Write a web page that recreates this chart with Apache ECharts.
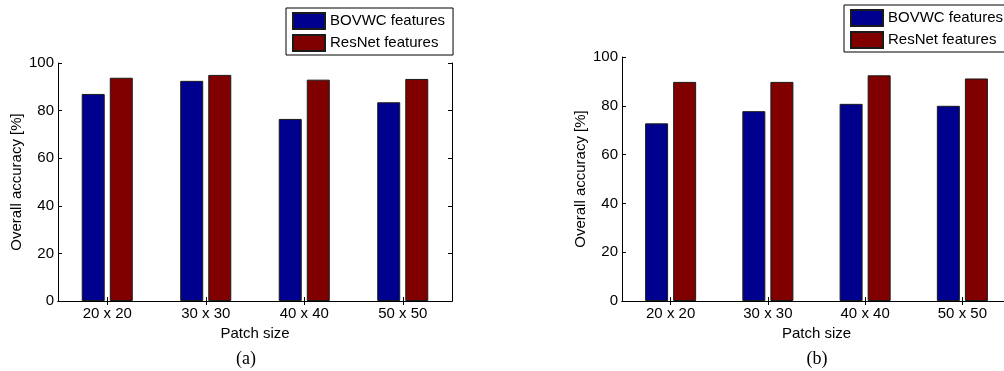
<!DOCTYPE html>
<html>
<head>
<meta charset="utf-8">
<script src="https://cdn.jsdelivr.net/npm/echarts@6/dist/echarts.min.js"></script>
<style>
  html, body { margin: 0; padding: 0; background: #fff; }
  #chart { width: 1004px; height: 371px; }
</style>
</head>
<body>
<div id="chart"></div>
<script>
// Patch sizes on the horizontal axis
const categories = ['20 x 20', '30 x 30', '40 x 40', '50 x 50'];
// Overall accuracy [%] for panel (a)
const bovwcA = [87.0, 92.5, 76.5, 83.5];
const resnetA = [93.8, 95.0, 93.0, 93.3];
// Overall accuracy [%] for panel (b)
const bovwcB = [72.8, 77.8, 80.8, 80.0];
const resnetB = [89.8, 89.8, 92.5, 91.2];
// Value axis range and step
const yMin = 0, yMax = 100, yStep = 20;

const seriesNames = ['BOVWC features', 'ResNet features'];
const colors = ['#00008f', '#800000'];
const FONT = 'Liberation Sans, Arial, Helvetica, sans-serif';

// panel (b) runs slightly past the right edge of the page
const grids = [
  { left: 58, top: 63, width: 394, height: 238, outerBoundsMode: 'none', containLabel: false },
  { left: 622, top: 57, width: 389, height: 244, outerBoundsMode: 'none', containLabel: false }
];

function bottomX(gi) {
  return {
    type: 'category', gridIndex: gi, data: categories, position: 'bottom',
    axisLine: { show: true, lineStyle: { color: '#000', width: 1 } },
    axisTick: { show: true, inside: true, length: 4, alignWithLabel: true, lineStyle: { color: '#000' } },
    axisLabel: { color: '#000', fontSize: 15, fontFamily: FONT, margin: 5 },
    name: 'Patch size', nameLocation: 'middle', nameGap: 19,
    nameTextStyle: { color: '#000', fontSize: 15, fontFamily: FONT },
    splitLine: { show: false }
  };
}
function topX(gi) {
  return {
    type: 'category', gridIndex: gi, data: categories, position: 'top',
    axisLine: { show: true, lineStyle: { color: '#000', width: 1 } },
    axisTick: { show: true, inside: true, length: 4, alignWithLabel: true, lineStyle: { color: '#000' } },
    axisLabel: { show: false }, splitLine: { show: false }
  };
}
function leftY(gi) {
  return {
    type: 'value', gridIndex: gi, min: yMin, max: yMax, interval: yStep, position: 'left',
    axisLine: { show: true, lineStyle: { color: '#000', width: 1 } },
    axisTick: { show: true, inside: true, length: 4, lineStyle: { color: '#000' } },
    axisLabel: { color: '#000', fontSize: 15, fontFamily: FONT, margin: 4 },
    name: 'Overall accuracy [%]', nameLocation: 'middle', nameGap: 34,
    nameTextStyle: { color: '#000', fontSize: 15, fontFamily: FONT },
    splitLine: { show: false }
  };
}
function rightY(gi) {
  return {
    type: 'value', gridIndex: gi, min: yMin, max: yMax, interval: yStep, position: 'right',
    axisLine: { show: true, lineStyle: { color: '#000', width: 1 } },
    axisTick: { show: true, inside: true, length: 4, lineStyle: { color: '#000' } },
    axisLabel: { show: false }, splitLine: { show: false }
  };
}

function bar(name, data, color, axisIdx) {
  return {
    type: 'bar', name: name, data: data,
    xAxisIndex: axisIdx, yAxisIndex: axisIdx,
    barWidth: 23, barGap: '22%',
    itemStyle: { color: color, borderColor: '#1a1a1a', borderWidth: 1 },
    emphasis: { disabled: true },
    animation: false
  };
}

function legendAt(left, top) {
  return {
    orient: 'vertical', left: left, top: top,
    data: seriesNames, icon: 'rect',
    itemWidth: 32, itemHeight: 16, itemGap: 4,
    padding: [4, 8, 3, 6],
    borderColor: '#000', borderWidth: 1, backgroundColor: '#fff',
    selectedMode: false,
    textStyle: { color: '#000', fontSize: 15, fontFamily: FONT }
  };
}

const chart = echarts.init(document.getElementById('chart'), null, { renderer: 'canvas' });
chart.setOption({
  backgroundColor: '#fff',
  animation: false,
  grid: grids,
  // axes 0,1: panel (a) bottom / panel (b) bottom; 2,3: top edges
  xAxis: [bottomX(0), bottomX(1), topX(0), topX(1)],
  yAxis: [leftY(0), leftY(1), rightY(0), rightY(1)],
  legend: [legendAt(286, 8), legendAt(844, 5)],
  series: [
    bar(seriesNames[0], bovwcA, colors[0], 0),
    bar(seriesNames[1], resnetA, colors[1], 0),
    bar(seriesNames[0], bovwcB, colors[0], 1),
    bar(seriesNames[1], resnetB, colors[1], 1)
  ],
  graphic: [
    { type: 'text', x: 246, y: 359, style: { text: '(a)', font: '18px "Liberation Serif", "Times New Roman", serif', fill: '#000', align: 'center', verticalAlign: 'middle' } },
    { type: 'text', x: 817, y: 359, style: { text: '(b)', font: '18px "Liberation Serif", "Times New Roman", serif', fill: '#000', align: 'center', verticalAlign: 'middle' } }
  ]
});
</script>
</body>
</html>
